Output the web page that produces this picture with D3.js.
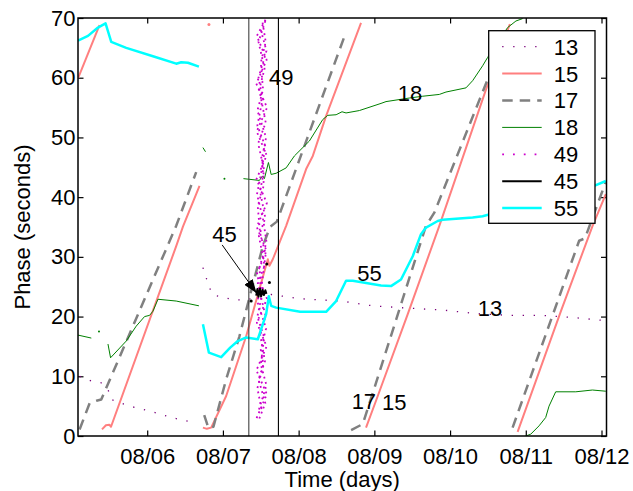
<!DOCTYPE html>
<html>
<head>
<meta charset="utf-8">
<script src="https://cdn.jsdelivr.net/npm/d3@7"></script>
<style>
  body { margin: 0; background: #fff; }
  svg { font-family: 'Liberation Sans', Arial, Helvetica, sans-serif; }
</style>
</head>
<body>
<div id="chart"></div>
<script>
// x = day of August (fractional), y = phase in seconds
const dayTicks = [6, 7, 8, 9, 10, 11, 12];
const phaseTicks = [0, 10, 20, 30, 40, 50, 60, 70];
const seriesNames = ['13', '15', '17', '18', '49', '45', '55'];
const eventDays = [7.342, 7.733];

const trace13 = [
  [[5.107, 10.0], [5.262, 9.2], [5.393, 8.9], [5.482, 7.8], [5.525, 6.1], [5.767, 5.0], [6.031, 4.2], [6.317, 3.1], [6.581, 2.35]],
  [[6.736, 28.2], [6.779, 26.5], [6.823, 24.8], [6.875, 23.6], [7.02, 23.2], [7.131, 22.8], [7.307, 22.8], [7.637, 23.7], [8.01, 23.0],
   [8.274, 22.8], [8.56, 22.6], [8.979, 21.8], [9.462, 21.4], [9.902, 21.1], [10.342, 20.5], [10.781, 20.2], [11.222, 20.2], [11.666, 19.8], [12.06, 19.3]]
];

const trace15 = [
  [[5.086, 59.9], [5.37, 68.8]],
  [[6.815, 68.9]],
  [[5.403, 1.1], [5.455, 1.8], [5.499, 1.9], [5.522, 1.55], [6.383, 31.8], [6.472, 35.05], [6.691, 41.9]],
  [[6.736, 1.4], [6.788, 1.2], [6.845, 1.4], [7.043, 6.7], [7.307, 16.7], [7.593, 29.6], [7.614, 28.5], [7.659, 29.6],
   [7.835, 35.2], [8.099, 44.7], [8.187, 46.9], [8.363, 53.6], [8.824, 69.2]],
  [[8.89, 1.4], [9.022, 5.9], [9.441, 20.4], [9.858, 35.2], [10.474, 58.0], [10.79, 69.0]],
  [[10.892, 0.7], [11.464, 20.9], [11.882, 35.2], [12.057, 40.5]]
];

const trace17 = [
  [[5.107, 1.1], [5.24, 5.5], [5.33, 5.9], [5.393, 6.1], [6.383, 35.2], [6.647, 44.2]],
  [[6.753, 3.5], [6.81, 1.3], [6.875, 1.55], [7.043, 9.5], [7.218, 16.7], [7.527, 31.8], [7.624, 35.05], [7.712, 35.9], [8.613, 67.2]],
  [[8.693, 1.0], [8.847, 2.0], [9.022, 8.9], [9.682, 35.2], [9.792, 37.4], [10.496, 59.7], [10.595, 63.0]],
  [[10.826, 1.4], [11.705, 32.7], [11.781, 33.1], [12.058, 42.6]]
];

const trace18 = [
  [[5.086, 16.9], [5.262, 16.4]],
  [[5.363, 17.5]],
  [[5.482, 15.4], [5.516, 13.1], [5.723, 15.9], [5.855, 18.4], [5.965, 20.0], [6.031, 20.2], [6.076, 20.9], [6.142, 22.9], [6.383, 22.6], [6.683, 21.8]],
  [[6.736, 48.3], [6.77, 47.6]],
  [[7.02, 43.1]],
  [[7.271, 43.1], [7.482, 42.8], [7.518, 43.5], [7.548, 43.1], [7.601, 45.8], [7.637, 43.8], [7.703, 44.0], [7.835, 44.9], [7.944, 46.9],
   [8.142, 49.4], [8.319, 53.0], [8.385, 53.7], [8.495, 53.8], [8.573, 54.3], [8.626, 54.1], [8.802, 54.5], [9.088, 55.7], [9.154, 56.0],
   [9.462, 56.6], [9.639, 56.9], [9.858, 57.2], [9.946, 57.6], [10.21, 58.3], [10.298, 59.5], [10.43, 62.0], [10.496, 63.4],
   [10.76, 68.4], [10.87, 69.5], [10.958, 69.9]],
  [[10.999, 0.0], [11.065, 0.3], [11.175, 1.7], [11.263, 3.1], [11.307, 5.0], [11.395, 7.4], [11.66, 7.4], [11.88, 7.7], [12.057, 7.5]]
];

// 49 jumps back and forth across the whole phase range in a narrow time window
const trace49 = [
  [[7.445, 3], [7.58, 7], [7.442, 11], [7.577, 15], [7.448, 19], [7.582, 23], [7.444, 27], [7.576, 31], [7.447, 35],
   [7.58, 39], [7.443, 43], [7.578, 47], [7.446, 51], [7.583, 55], [7.441, 59], [7.577, 63], [7.448, 67], [7.575, 70]],
  [[7.56, 69.5], [7.47, 66], [7.55, 61.5], [7.48, 58], [7.565, 52.5], [7.465, 49], [7.545, 44.5], [7.49, 41], [7.56, 36.5],
   [7.475, 33.5], [7.55, 28.5], [7.46, 25.5], [7.565, 20], [7.485, 17.5], [7.555, 12.5], [7.47, 9.5], [7.56, 5.5], [7.48, 2.9]],
  [[7.51, 4.5], [7.455, 8], [7.535, 12], [7.5, 14.5], [7.57, 18], [7.455, 22.5], [7.52, 26], [7.565, 30.5], [7.49, 34],
   [7.46, 38.5], [7.54, 42], [7.515, 46.5], [7.57, 50], [7.455, 54.5], [7.53, 58], [7.5, 62.5], [7.565, 66], [7.52, 69.5]],
  [[7.5, 68], [7.575, 64.5], [7.47, 60], [7.525, 56.5], [7.455, 52], [7.56, 48.5], [7.505, 44], [7.45, 40.5], [7.535, 36],
   [7.575, 32.5], [7.48, 28], [7.53, 24.5], [7.455, 20], [7.545, 16.5], [7.5, 12], [7.575, 8.5], [7.465, 4]]
];

const trace45 = [
  [[7.44, 23.5], [7.455, 24.6], [7.47, 23.3], [7.49, 24.7], [7.505, 23.4], [7.525, 24.5], [7.54, 23.6], [7.56, 24.4], [7.575, 23.8]],
  [[7.58, 28.8]],
  [[7.614, 25.7]],
  [[7.373, 22.6]]
];

const trace55 = [
  [[5.086, 66.2], [5.218, 67.0], [5.35, 68.4], [5.45, 69.1], [5.525, 66.0], [5.723, 65.0], [6.076, 63.6], [6.383, 62.35],
   [6.449, 62.6], [6.538, 62.5], [6.683, 61.85]],
  [[6.736, 18.7], [6.815, 13.95], [6.977, 13.2], [7.096, 14.8], [7.197, 15.9], [7.307, 16.5], [7.461, 16.2], [7.571, 20.4],
   [7.606, 23.4], [7.637, 21.8], [7.703, 21.5], [8.02, 20.8], [8.363, 20.8], [8.495, 22.6], [8.626, 26.0], [8.715, 26.0],
   [9.088, 25.2], [9.22, 25.1], [9.352, 26.2], [9.507, 30.1], [9.616, 33.8], [9.682, 34.9], [9.837, 36.0], [9.903, 36.2],
   [10.298, 36.6], [10.43, 36.8], [11.903, 41.9], [12.057, 42.7]]
];

const traces = [trace13, trace15, trace17, trace18, trace49, trace45, trace55];

const labelTexts = ['49', '45', '18', '55', '13', '17', '15'];
const labelDays = [7.61, 6.86, 9.31, 8.775, 10.365, 8.70, 9.10];
const labelPhases = [58.8, 32.5, 56.1, 26.0, 20.1, 4.5, 4.35];
const arrow45 = [[6.99, 32.0], [7.445, 23.9]];

const styles = {
  '13': { color: '#7a007a', width: 1.3, dash: '1.3 9.7' },
  '15': { color: '#ff7f7f', width: 2, dash: null },
  '17': { color: '#808080', width: 2.5, dash: '10.5 7' },
  '18': { color: '#008000', width: 1, dash: null },
  '49': { color: '#cc00cc', width: 1.8, dash: '1.8 9', plotDash: '1.8 3.6' },
  '45': { color: '#000000', width: 2, dash: null },
  '55': { color: '#00ffff', width: 2.5, dash: null }
};

const width = 633;
const height = 491;
const plot = { left: 78, right: 606.5, top: 18, bottom: 436 };

const svg = d3.select('#chart')
  .append('svg')
  .attr('width', width)
  .attr('height', height);

const x = d3.scaleLinear().domain([5.086, 12.066]).range([plot.left, plot.right]);
const y = d3.scaleLinear().domain([0, 70]).range([plot.bottom, plot.top]);

svg.append('defs').append('clipPath')
  .attr('id', 'plot-clip')
  .append('rect')
  .attr('x', plot.left)
  .attr('y', plot.top)
  .attr('width', plot.right - plot.left)
  .attr('height', plot.bottom - plot.top);

// Axes (ticks pointing inward on all four sides)
const fmtDay = (d) => '08/' + String(d).padStart(2, '0');

const xAxis = svg.append('g')
  .attr('transform', `translate(0,${plot.bottom})`)
  .call(d3.axisBottom(x).tickValues(dayTicks).tickFormat(fmtDay).tickSize(-5.5).tickSizeOuter(0).tickPadding(12.5));
const xAxisTop = svg.append('g')
  .attr('transform', `translate(0,${plot.top})`)
  .call(d3.axisTop(x).tickValues(dayTicks).tickFormat('').tickSize(-5.5).tickSizeOuter(0));
const yAxis = svg.append('g')
  .attr('transform', `translate(${plot.left},0)`)
  .call(d3.axisLeft(y).tickValues(phaseTicks).tickSize(-5.5).tickSizeOuter(0).tickPadding(2.5));
const yAxisRight = svg.append('g')
  .attr('transform', `translate(${plot.right},0)`)
  .call(d3.axisRight(y).tickValues(phaseTicks).tickFormat('').tickSize(-5.5).tickSizeOuter(0));

[xAxis, xAxisTop, yAxis, yAxisRight].forEach((g) => {
  g.select('.domain').remove();
  g.selectAll('.tick line').attr('stroke', '#000').attr('stroke-width', 1.2);
  g.selectAll('text').attr('fill', '#000').style('font-size', '22px').attr('font-family', null);
});

// Data lines
const line = d3.line().x((d) => x(d[0])).y((d) => y(d[1]));
const dataLayer = svg.append('g').attr('clip-path', 'url(#plot-clip)');

traces.forEach((segments, i) => {
  const st = styles[seriesNames[i]];
  const g = dataLayer.append('g').attr('class', 'series-' + seriesNames[i]);
  segments.forEach((seg) => {
    if (seg.length === 1) {
      g.append('circle')
        .attr('cx', x(seg[0][0]))
        .attr('cy', y(seg[0][1]))
        .attr('r', Math.max(st.width * 0.75, 1))
        .attr('fill', st.color);
    } else {
      g.append('path')
        .attr('d', line(seg))
        .attr('fill', 'none')
        .attr('stroke', st.color)
        .attr('stroke-width', st.width)
        .attr('stroke-dasharray', st.plotDash || st.dash)
        .attr('stroke-linejoin', 'round');
    }
  });
});

// Event markers
eventDays.forEach((d, i) => {
  svg.append('line')
    .attr('x1', x(d)).attr('x2', x(d))
    .attr('y1', plot.top).attr('y2', plot.bottom)
    .attr('stroke', i === 0 ? '#404040' : '#000')
    .attr('stroke-width', 1.1);
});

// Annotations
svg.append('defs')
  .append('marker')
  .attr('id', 'arrowhead')
  .attr('viewBox', '0 -5 14 10')
  .attr('refX', 14)
  .attr('refY', 0)
  .attr('markerUnits', 'userSpaceOnUse')
  .attr('markerWidth', 14)
  .attr('markerHeight', 10)
  .attr('orient', 'auto')
  .append('path')
  .attr('d', 'M0,-5L14,0L0,5Z')
  .attr('fill', '#000');

svg.append('line')
  .attr('x1', x(arrow45[0][0])).attr('y1', y(arrow45[0][1]))
  .attr('x2', x(arrow45[1][0])).attr('y2', y(arrow45[1][1]))
  .attr('stroke', '#000')
  .attr('stroke-width', 1)
  .attr('marker-end', 'url(#arrowhead)');

labelTexts.forEach((t, i) => {
  svg.append('text')
    .attr('x', x(labelDays[i]))
    .attr('y', y(labelPhases[i]))
    .attr('fill', '#000')
    .style('font-size', '22px')
    .text(t);
});

// Frame
svg.append('rect')
  .attr('x', plot.left).attr('y', plot.top)
  .attr('width', plot.right - plot.left)
  .attr('height', plot.bottom - plot.top)
  .attr('fill', 'none')
  .attr('stroke', '#000')
  .attr('stroke-width', 1.5);

// Axis titles
svg.append('text')
  .attr('x', (plot.left + plot.right) / 2)
  .attr('y', 487)
  .attr('text-anchor', 'middle')
  .style('font-size', '22px')
  .text('Time (days)');

svg.append('text')
  .attr('transform', `translate(30,${(plot.top + plot.bottom) / 2}) rotate(-90)`)
  .attr('text-anchor', 'middle')
  .style('font-size', '22px')
  .text('Phase (seconds)');

// Legend
const legend = svg.append('g').attr('transform', 'translate(488.7,30.7)');
legend.append('rect')
  .attr('width', 106.3)
  .attr('height', 192.6)
  .attr('fill', '#fff')
  .attr('stroke', '#000')
  .attr('stroke-width', 1.3);

seriesNames.forEach((name, i) => {
  const st = styles[name];
  const cy = 16 + i * 26.9;
  legend.append('line')
    .attr('x1', 13.5).attr('x2', 53)
    .attr('y1', cy).attr('y2', cy)
    .attr('stroke', st.color)
    .attr('stroke-width', st.width)
    .attr('stroke-dasharray', st.dash);
  legend.append('text')
    .attr('x', 65)
    .attr('y', cy + 8)
    .style('font-size', '22px')
    .text(name);
});
</script>
</body>
</html>
